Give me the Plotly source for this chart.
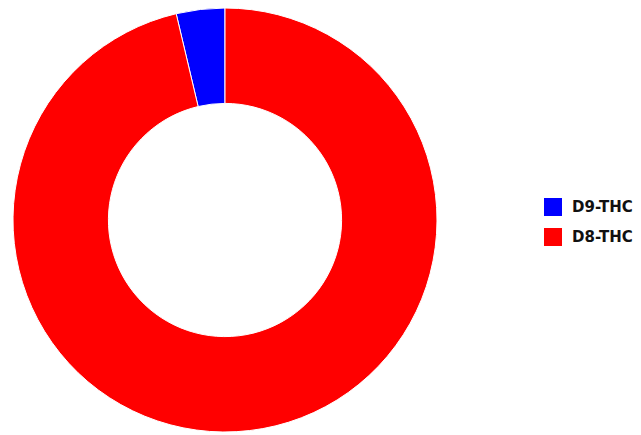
import plotly.graph_objects as go

labels = ["D9-THC", "D8-THC"]
values = [3.7, 96.3]
colors = ["#0000ff", "#ff0000"]

W, H = 641, 435

start_angle = -values[0] / sum(values) * 360

fig = go.Figure(go.Pie(
    labels=labels,
    values=values,
    hole=0.55,
    sort=False,
    direction="clockwise",
    rotation=start_angle,
    marker=dict(colors=colors, line=dict(color="white", width=1)),
    textinfo="none",
    hoverinfo="label+percent",
    showlegend=False,
    domain=dict(x=[12 / W, 438 / W], y=[3 / H, 1 - 8 / H]),
))

# custom legend with large square swatches
shapes = []
annotations = []
for i, (lab, col) in enumerate(zip(labels, colors)):
    cy = 207 + i * 30
    shapes.append(dict(
        type="rect", xref="paper", yref="paper",
        x0=544 / W, x1=562 / W, y0=1 - (cy - 9) / H, y1=1 - (cy + 9) / H,
        fillcolor=col, line=dict(width=0),
    ))
    annotations.append(dict(
        xref="paper", yref="paper", x=570 / W, y=1 - cy / H,
        xanchor="left", yanchor="middle", showarrow=False, text=lab,
        font=dict(family="DejaVu Sans", size=15, color="#111111", weight="bold"),
    ))

fig.update_layout(
    width=W, height=H,
    margin=dict(l=0, r=0, t=0, b=0),
    paper_bgcolor="white",
    plot_bgcolor="white",
    shapes=shapes,
    annotations=annotations,
)

fig.write_html(
    "out.html",
    config={"displayModeBar": False},
    post_script="document.body.style.margin='0';document.body.style.overflow='hidden';",
)
